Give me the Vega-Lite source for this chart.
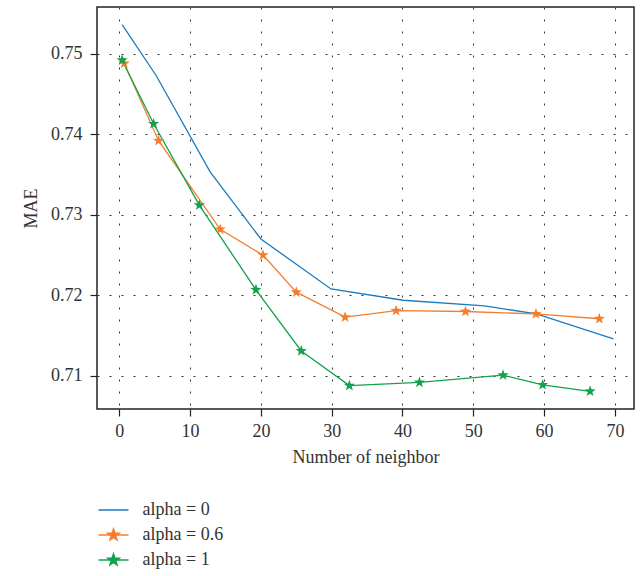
{
  "$schema": "https://vega.github.io/schema/vega-lite/v6.json",
  "width": 537,
  "height": 402,
  "autosize": "none",
  "padding": {"left": 97, "top": 7, "right": 10, "bottom": 167},
  "background": "white",
  "config": {
    "font": "Liberation Serif",
    "view": {"stroke": "#222", "strokeWidth": 1.5},
    "axis": {
      "domain": false,
      "grid": true,
      "gridColor": "#333",
      "gridDash": [2, 10],
      "gridWidth": 1,
      "gridOpacity": 1,
      "tickColor": "#222",
      "tickSize": 7,
      "tickWidth": 1.2,
      "labelFont": "Liberation Serif",
      "labelFontSize": 18,
      "labelColor": "#333",
      "titleFont": "Liberation Serif",
      "titleFontSize": 18,
      "titleFontWeight": "normal",
      "titleColor": "#333"
    }
  },
  "data": {
    "values": [
      {"series": "alpha = 0", "k": 0.4, "mae": 0.7536},
      {"series": "alpha = 0", "k": 5.2, "mae": 0.7473},
      {"series": "alpha = 0", "k": 12.85, "mae": 0.7353},
      {"series": "alpha = 0", "k": 20.0, "mae": 0.727},
      {"series": "alpha = 0", "k": 29.9, "mae": 0.7208},
      {"series": "alpha = 0", "k": 40.1, "mae": 0.7194},
      {"series": "alpha = 0", "k": 51.6, "mae": 0.7187},
      {"series": "alpha = 0", "k": 58.9, "mae": 0.7177},
      {"series": "alpha = 0", "k": 69.8, "mae": 0.7146},
      {"series": "alpha = 0.6", "k": 0.7, "mae": 0.7488},
      {"series": "alpha = 0.6", "k": 5.55, "mae": 0.7392},
      {"series": "alpha = 0.6", "k": 14.25, "mae": 0.7282},
      {"series": "alpha = 0.6", "k": 20.3, "mae": 0.725},
      {"series": "alpha = 0.6", "k": 25.0, "mae": 0.7204},
      {"series": "alpha = 0.6", "k": 31.9, "mae": 0.7173},
      {"series": "alpha = 0.6", "k": 39.1, "mae": 0.7181},
      {"series": "alpha = 0.6", "k": 48.9, "mae": 0.718},
      {"series": "alpha = 0.6", "k": 58.85, "mae": 0.7177},
      {"series": "alpha = 0.6", "k": 67.8, "mae": 0.7171},
      {"series": "alpha = 1", "k": 0.4, "mae": 0.7492},
      {"series": "alpha = 1", "k": 4.85, "mae": 0.7413},
      {"series": "alpha = 1", "k": 11.3, "mae": 0.7312},
      {"series": "alpha = 1", "k": 19.3, "mae": 0.7207},
      {"series": "alpha = 1", "k": 25.7, "mae": 0.7131},
      {"series": "alpha = 1", "k": 32.5, "mae": 0.7088},
      {"series": "alpha = 1", "k": 42.4, "mae": 0.7092},
      {"series": "alpha = 1", "k": 54.2, "mae": 0.7101},
      {"series": "alpha = 1", "k": 59.8, "mae": 0.7089},
      {"series": "alpha = 1", "k": 66.5, "mae": 0.7081}
    ]
  },
  "encoding": {
    "x": {
      "field": "k",
      "type": "quantitative",
      "scale": {"domain": [-3.15, 72.7], "nice": false, "zero": false},
      "axis": {"values": [0, 10, 20, 30, 40, 50, 60, 70], "title": "Number of neighbor", "labelPadding": 6, "titlePadding": 8}
    },
    "y": {
      "field": "mae",
      "type": "quantitative",
      "scale": {"domain": [0.7059, 0.7558], "nice": false, "zero": false},
      "axis": {"values": [0.71, 0.72, 0.73, 0.74, 0.75], "format": ".2f", "title": "MAE", "labelPadding": 8, "titlePadding": 10}
    },
    "color": {
      "field": "series",
      "type": "nominal",
      "scale": {"domain": ["alpha = 0", "alpha = 0.6", "alpha = 1"], "range": ["#1b7bbf", "#f47e2f", "#12a24b"]},
      "legend": {
        "orient": "none",
        "legendX": 7.5,
        "legendY": 494,
        "title": null,
        "labelFont": "Liberation Serif",
        "labelFontSize": 18,
        "labelColor": "#333",
        "labelOffset": 20,
        "rowPadding": 7,
        "symbolSize": 225,
        "encode": {
          "symbols": {
            "update": {
              "shape": {"signal": "datum.value === 'alpha = 0' ? 'M-2,0L2,0' : 'M-2,0L2,0M0,-0.8L0.188,-0.259L0.761,-0.247L0.304,0.099L0.47,0.647L0,0.32L-0.47,0.647L-0.304,0.099L-0.761,-0.247L-0.188,-0.259Z'"},
              "fill": {"scale": "color", "field": "value"},
              "stroke": {"scale": "color", "field": "value"},
              "strokeWidth": {"value": 1.5},
              "opacity": {"value": 1}
            }
          }
        }
      }
    }
  },
  "layer": [
    {
      "mark": {"type": "line", "strokeWidth": 1.3},
      "encoding": {"order": {"field": "k", "type": "quantitative"}}
    },
    {
      "transform": [{"filter": "datum.series !== 'alpha = 0'"}],
      "mark": {"type": "point", "shape": "M0,-1L0.235,-0.324L0.951,-0.309L0.38,0.124L0.588,0.809L0,0.4L-0.588,0.809L-0.38,0.124L-0.951,-0.309L-0.235,-0.324Z", "filled": true, "size": 140, "opacity": 1},
      "encoding": {}
    }
  ]
}
